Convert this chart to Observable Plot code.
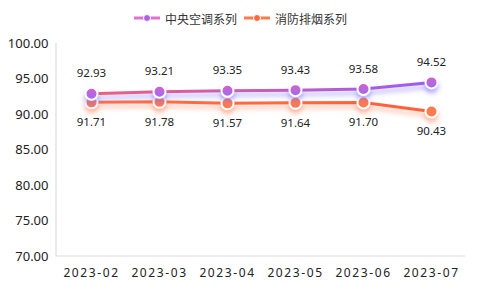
<!DOCTYPE html>
<html><head><meta charset="utf-8">
<script src="https://cdn.jsdelivr.net/npm/d3@7"></script>
<script src="https://cdn.jsdelivr.net/npm/@observablehq/plot@0.6"></script>
<style>
body{margin:0;background:#fff;font-family:"Noto Sans","Noto Sans CJK SC",sans-serif}
#legend{height:30px;display:flex;justify-content:center;align-items:center;gap:6px;font-size:12px;color:#333;padding-top:6px;box-sizing:border-box;font-family:"Noto Sans CJK SC",sans-serif}
.item{display:flex;align-items:center;gap:4px}
</style></head><body>
<div id="legend"></div><div id="chart"></div>
<script>
const months=["2023-02","2023-03","2023-04","2023-05","2023-06","2023-07"];
const hvac=[92.93,93.21,93.35,93.43,93.58,94.52];
const fire=[91.71,91.78,91.57,91.64,91.70,90.43];
const seriesNames=["中央空调系列","消防排烟系列"];
const yTicks=[70,75,80,85,90,95,100];

const hvacRows=months.map((m,i)=>({month:m,value:hvac[i],series:seriesNames[0]}));
const fireRows=months.map((m,i)=>({month:m,value:fire[i],series:seriesNames[1]}));

// legend
const legendColors=[["#e070d0","#b060e8"],["#ff7a4a","#ff6a3c"]];
const lg=d3.select("#legend");
seriesNames.forEach((n,i)=>{
  const it=lg.append("div").attr("class","item");
  const s=it.append("svg").attr("width",28).attr("height",10);
  s.append("line").attr("x1",1).attr("x2",27).attr("y1",5).attr("y2",5).attr("stroke",legendColors[i][0]).attr("stroke-width",3);
  s.append("circle").attr("cx",14).attr("cy",5).attr("r",3.5).attr("fill",legendColors[i][1]).attr("stroke","#fff").attr("stroke-width",1);
  it.append("span").text(n);
});

const defs=()=>{
  const g=d3.create("svg:defs");
  const lp=g.append("linearGradient").attr("id","gp").attr("x1","0").attr("x2","1").attr("y1","0").attr("y2","0");
  lp.append("stop").attr("offset","0").attr("stop-color","#f0607a");
  lp.append("stop").attr("offset","1").attr("stop-color","#9a5cf6");
  const lo=g.append("linearGradient").attr("id","go").attr("x1","0").attr("x2","1").attr("y1","0").attr("y2","0");
  lo.append("stop").attr("offset","0").attr("stop-color","#ff7048");
  lo.append("stop").attr("offset","1").attr("stop-color","#ff6038");
  const dp=g.append("linearGradient").attr("id","dp").attr("x1","0").attr("x2","0").attr("y1","0").attr("y2","1");
  dp.append("stop").attr("offset","0").attr("stop-color","#d860c8");
  dp.append("stop").attr("offset","1").attr("stop-color","#9a6cf2");
  const f1=g.append("filter").attr("id","sp").attr("x","-20%").attr("y","-100%").attr("width","140%").attr("height","300%");
  f1.append("feDropShadow").attr("dx",0).attr("dy",4).attr("stdDeviation",2.5).attr("flood-color","#7a6cff").attr("flood-opacity",0.55);
  const f2=g.append("filter").attr("id","so").attr("x","-20%").attr("y","-100%").attr("width","140%").attr("height","300%");
  f2.append("feDropShadow").attr("dx",0).attr("dy",4).attr("stdDeviation",2.5).attr("flood-color","#ff6a3c").attr("flood-opacity",0.45);
  return g.node();
};
const axisLines=(index,scales,values,dim)=>{
  const l=dim.marginLeft,r=dim.width-dim.marginRight,t=dim.marginTop,b=dim.height-dim.marginBottom;
  return d3.create("svg:path").attr("d",`M${l},${t}V${b}H${r}`).attr("fill","none").attr("stroke","#ddd").attr("stroke-width",1.2).node();
};

const plot=Plot.plot({
  width:480,height:267,
  marginTop:13,marginBottom:41,marginLeft:56,marginRight:15,
  style:{fontFamily:'"Noto Sans","Noto Sans CJK SC",sans-serif',color:"#333",background:"#fff"},
  x:{type:"point",domain:months,padding:0.5,label:null},
  y:{domain:[70,100],label:null},
  marks:[
    defs,
    axisLines,
    Plot.axisY({ticks:yTicks,tickFormat:d=>d.toFixed(2),tickSize:0,tickPadding:8,fontSize:13,fill:"#222"}),
    Plot.axisX({tickSize:0,tickPadding:12,fontSize:12,fill:"#222"}),
    Plot.line(fireRows,{x:"month",y:"value",stroke:"url(#go)",strokeWidth:3}),
    Plot.line(hvacRows,{x:"month",y:"value",stroke:"url(#gp)",strokeWidth:3}),
    Plot.dot(fireRows,{x:"month",y:"value",r:6,fill:"#ff7a4e",stroke:"#fff",strokeWidth:2}),
    Plot.dot(hvacRows,{x:"month",y:"value",r:6,fill:"url(#dp)",stroke:"#fff",strokeWidth:2}),
    Plot.text(hvacRows,{x:"month",y:"value",text:d=>d.value.toFixed(2),dy:-20,fontSize:11.5,fill:"#222"}),
    Plot.text(fireRows,{x:"month",y:"value",text:d=>d.value.toFixed(2),dy:20,fontSize:11.5,fill:"#222"})
  ]
});
const sv=d3.select(plot);
const lines=sv.selectAll('g[aria-label="line"]').nodes();
d3.select(lines[0]).attr("filter","url(#so)");
d3.select(lines[1]).attr("filter","url(#sp)");
const dots=sv.selectAll('g[aria-label="dot"]').nodes();
d3.select(dots[0]).attr("filter","url(#so)");
d3.select(dots[1]).attr("filter","url(#sp)");
sv.selectAll('g[aria-label="x-axis tick label"] text').style("letter-spacing","1.6px");
document.getElementById("chart").appendChild(plot);
</script></body></html>
